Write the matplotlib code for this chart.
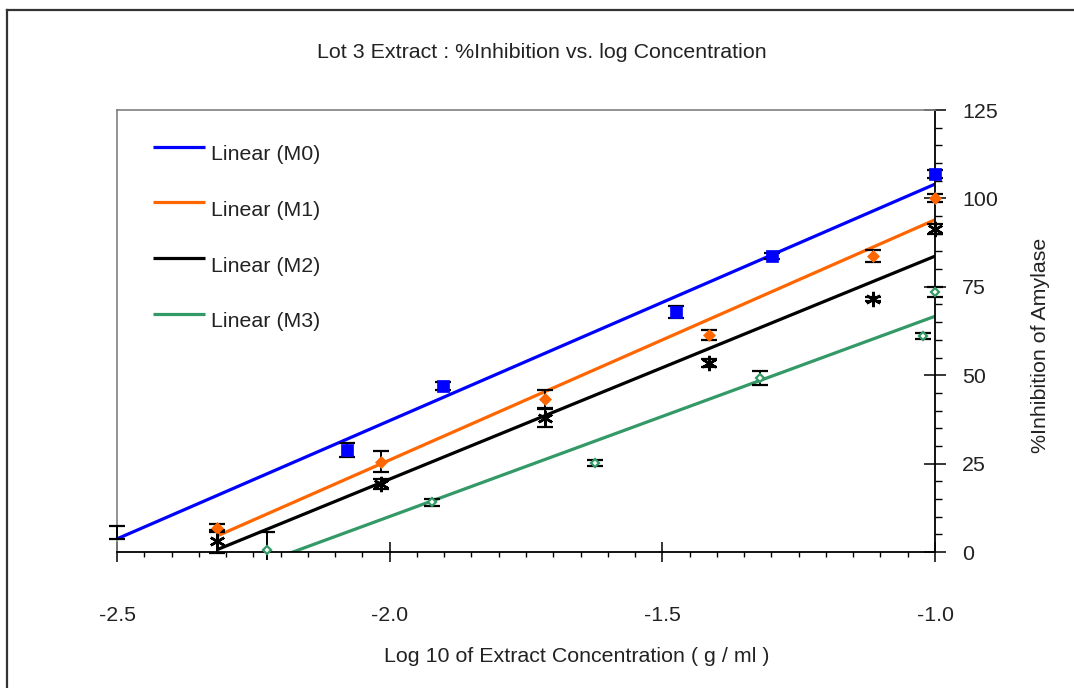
import numpy as np
import matplotlib
matplotlib.use("Agg")
import matplotlib.pyplot as plt
from matplotlib.ticker import MultipleLocator
from matplotlib.lines import Line2D
from matplotlib.transforms import Bbox, TransformedBbox
from matplotlib.legend_handler import HandlerLine2D

plt.rcParams['font.family'] = ['Liberation Sans', 'DejaVu Sans']

# ---- data ----
series_names = ["M0", "M1", "M2", "M3"]
m0_x = [-2.5, -2.078, -1.902, -1.475, -1.299, -1.0]
m0_y = [5.5, 28.8, 46.9, 67.9, 83.7, 106.9]
m0_err = [1.8, 2.0, 1.1, 1.6, 0.8, 1.0]

m1_x = [-2.317, -2.016, -1.715, -1.414, -1.114, -1.0]
m1_y = [6.8, 25.5, 43.3, 61.4, 83.7, 100.1]
m1_err = [1.1, 3.0, 2.5, 1.4, 1.7, 1.2]

m2_x = [-2.317, -2.016, -1.715, -1.414, -1.114, -1.0]
m2_y = [3.0, 19.2, 37.9, 53.5, 71.6, 91.3]
m2_err = [3.3, 1.5, 2.5, 1.2, 0.5, 1.5]

m3_x = [-2.225, -1.922, -1.6235, -1.321, -1.022, -1.0]
m3_y = [0.6, 14.1, 25.2, 49.2, 61.1, 73.5]
m3_err = [5.1, 1.0, 0.9, 2.1, 0.8, 1.4]

legend_labels = ["Linear (M0)", "Linear (M1)", "Linear (M2)", "Linear (M3)"]
x_ticks = [-2.5, -2.0, -1.5, -1.0]
y_ticks = [0, 25, 50, 75, 100, 125]

colors = ["#0000FF", "#FF6600", "#000000", "#339966"]

FS = 15.4
AXW, AXH = 818.0, 442.0
fig = plt.figure(figsize=(10.74, 6.88), dpi=100)
ax = fig.add_axes([117/1074, 1-552/688, AXW/1074, AXH/688])

xs = [m0_x, m1_x, m2_x, m3_x]
ys = [m0_y, m1_y, m2_y, m3_y]
errs = [m0_err, m1_err, m2_err, m3_err]

marker_clip = TransformedBbox(Bbox([[8/AXW, -10/AXH], [1+20/AXW, 1]]), ax.transAxes)
err_clip = TransformedBbox(Bbox([[-12/AXW, -8/AXH], [1+20/AXW, 1]]), ax.transAxes)

marker_styles = [
    dict(marker='s', ms=8.8, mfc=colors[0], mec=colors[0], mew=0.5),
    dict(marker='D', ms=6.0, mfc=colors[1], mec=colors[1], mew=0.5),
    dict(marker=(6, 2, 0), ms=11, mfc='black', mec='black', mew=1.8),
    dict(marker='D', ms=4.5, mfc='white', mec=colors[3], mew=1.6),
]

handles = []
for i in range(4):
    x = np.array(xs[i]); y = np.array(ys[i])
    k, b = np.polyfit(x, y, 1)
    xl = np.array([x.min(), x.max()])
    ln, = ax.plot(xl, k*xl + b, color=colors[i], lw=2.3, zorder=2, solid_capstyle='butt')
    handles.append(ln)
    eb = ax.errorbar(x, y, yerr=errs[i], fmt='none', ecolor='black', elinewidth=1.4,
                     capsize=5.5, capthick=1.6, zorder=3)
    for art in list(eb.lines[1]) + list(eb.lines[2]):
        art.set_clip_box(err_clip)
    mk, = ax.plot(x, y, ls='none', zorder=4, **marker_styles[i])
    mk.set_clip_box(marker_clip)

ax.set_xlim(-2.5, -1.0)
ax.set_ylim(0, 125)
ax.set_xticks(x_ticks)
ax.set_xticklabels([f"{v:.1f}" for v in x_ticks])
ax.set_yticks(y_ticks)
ax.set_yticklabels([str(v) for v in y_ticks])
ax.xaxis.set_minor_locator(MultipleLocator(0.05))
ax.yaxis.set_minor_locator(MultipleLocator(5))

for s in ['left', 'top']:
    ax.spines[s].set_color('#808080')
    ax.spines[s].set_linewidth(1.2)
for s in ['bottom', 'right']:
    ax.spines[s].set_color('black')
    ax.spines[s].set_linewidth(1.3)

ax.tick_params(axis='x', which='major', direction='inout', length=14.4, width=1.1,
               pad=31.7, labelsize=FS, colors='black', labelcolor='#222222')
ax.tick_params(axis='x', which='minor', direction='out', length=3.8, width=1.0)
ax.tick_params(axis='y', which='both', left=False, right=True, labelleft=False, labelright=True)
ax.tick_params(axis='y', which='major', direction='inout', length=15.8, width=1.1,
               pad=11.5, labelsize=FS, labelcolor='#222222')
ax.tick_params(axis='y', which='minor', direction='out', length=5, width=1.0)


class RaisedLine(HandlerLine2D):
    def create_artists(self, legend, orig_handle, xdescent, ydescent, width, height,
                       fontsize, trans):
        arts = super().create_artists(legend, orig_handle, xdescent, ydescent, width,
                                      height, fontsize, trans)
        for a in arts:
            if isinstance(a, Line2D):
                a.set_ydata(np.asarray(a.get_ydata(), dtype=float) + 4.3)
        return arts


leg = ax.legend(handles, legend_labels, loc='upper left', bbox_to_anchor=(36/AXW, 1-35/AXH),
                frameon=False, fontsize=FS, handlelength=2.43, handletextpad=0.3,
                labelspacing=1.72, borderpad=0, borderaxespad=0,
                handler_map={Line2D: RaisedLine()})
for t in leg.get_texts():
    t.set_color('#222222')

fig.text(542/1074, 1-52/688, "Lot 3 Extract : %Inhibition vs. log Concentration",
         ha='center', va='center', fontsize=FS, color='#222222')
fig.text(577/1074, 1-657/688, "Log 10 of Extract Concentration ( g / ml )",
         ha='center', va='center', fontsize=FS, color='#222222')
fig.text(1040/1074, 1-345/688, "%Inhibition of Amylase", rotation=90,
         ha='center', va='center', fontsize=FS, color='#222222')

# outer frame (partially visible)
x0 = 7.5/1074; y0 = 1-9.5/688
fig.add_artist(Line2D([x0, x0], [0, y0], color='#333333', lw=1.6, transform=fig.transFigure))
fig.add_artist(Line2D([x0, 1], [y0, y0], color='#333333', lw=1.6, transform=fig.transFigure))

fig.savefig("out.png", dpi=100)
